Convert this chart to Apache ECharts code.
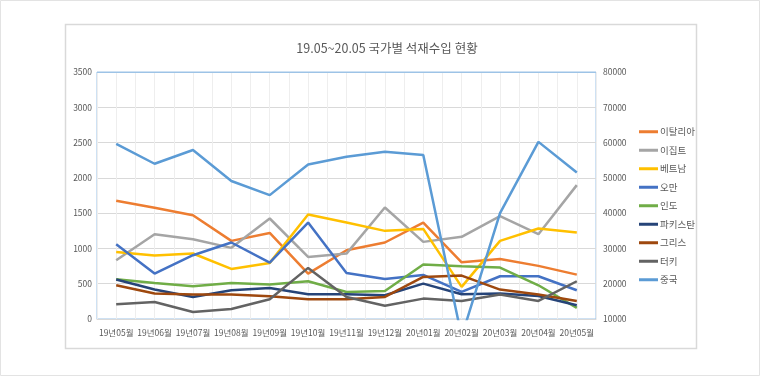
<!DOCTYPE html>
<html>
<head>
<meta charset="utf-8">
<script src="https://cdn.jsdelivr.net/npm/echarts@6/dist/echarts.min.js"></script>
<style>
  html, body { margin: 0; padding: 0; background: #fff; }
  #chart { width: 760px; height: 376px; }
</style>
</head>
<body>
<div id="chart"></div>
<script>
const months = ['19년05월', '19년06월', '19년07월', '19년08월', '19년09월', '19년10월', '19년11월',
  '19년12월', '20년01월', '20년02월', '20년03월', '20년04월', '20년05월']
const names = ['이탈리아', '이집트', '베트남', '오만', '인도', '파키스탄', '그리스', '터키', '중국']

const italy = [1675, 1575, 1471, 1107, 1220, 643, 975, 1084, 1367, 804, 851, 753, 629]
const egypt = [833, 1202, 1131, 1008, 1424, 880, 927, 1580, 1093, 1164, 1457, 1202, 1897]
const vietnam = [951, 899, 928, 710, 795, 1480, 1367, 1249, 1277, 455, 1107, 1282, 1225]
const oman = [1060, 644, 904, 1084, 800, 1367, 653, 568, 624, 384, 606, 606, 407]
const india = [563, 511, 464, 511, 488, 535, 383, 397, 771, 748, 729, 478, 157]
const pakistan = [559, 417, 313, 407, 440, 350, 350, 336, 501, 350, 360, 327, 194]
const greece = [478, 360, 346, 346, 322, 279, 279, 312, 596, 615, 417, 346, 256]
const turkey = [209, 242, 100, 142, 280, 724, 312, 189, 289, 256, 346, 256, 535]
// 중국은 오른쪽 축
const china = [59600, 54000, 57900, 49100, 45100, 53800, 56000, 57400, 56500, 5000, 40000, 60200, 51500]

const colors = ['#ED7D31', '#A5A5A5', '#FFC000', '#4472C4', '#70AD47', '#264478', '#9E480E', '#636363', '#5B9BD5']
const seriesData = [italy, egypt, vietnam, oman, india, pakistan, greece, turkey, china]

// 세로 보조 격자선 (반 칸 간격)
const halfTicks = []
for (let i = 0; i < months.length * 2; i++) halfTicks.push(i)

const font = '"Noto Sans CJK KR", "Noto Sans", sans-serif'
const textColor = '#595959'

const series = seriesData.map((data, i) => {
  return {
    name: names[i],
    type: 'line',
    yAxisIndex: i === 8 ? 1 : 0,
    symbol: 'none',
    data: data,
    clip: true,
    lineStyle: { width: 2.5, color: colors[i] },
    itemStyle: { color: colors[i] },
  }
})

const option = {
  animation: false,
  color: colors,
  textStyle: { fontFamily: font },
  title: {
    text: '19.05~20.05 국가별 석재수입 현황',
    left: 382,
    textAlign: 'center',
    top: 37,
    textStyle: { fontSize: 12.5, fontWeight: 'normal', color: textColor, fontFamily: font }
  },
  legend: {
    orient: 'vertical',
    left: 634,
    top: 122,
    icon: 'rect',
    itemWidth: 19,
    itemHeight: 3,
    itemGap: 9,
    data: names,
    textStyle: { fontSize: 9.5, color: textColor, fontFamily: font, padding: [0, 0, 0, -3] }
  },
  grid: {
    left: 97,
    right: 164,
    top: 72,
    bottom: 57,
    show: true,
    borderColor: '#9DC3E6',
    borderWidth: 1
  },
  xAxis: [
    {
      type: 'category',
      data: months,
      axisLine: { lineStyle: { color: '#d9d9d9' } },
      axisTick: { show: false },
      axisLabel: { interval: 0, fontSize: 8.5, color: textColor, margin: 10, fontFamily: font },
      splitLine: { show: false }
    },
    {
      type: 'category',
      data: halfTicks,
      position: 'bottom',
      show: true,
      axisLine: { show: false },
      axisTick: { show: false },
      axisLabel: { show: false },
      splitLine: { show: true, interval: 0, lineStyle: { color: '#eeeeee' } }
    }
  ],
  yAxis: [
    {
      type: 'value',
      min: 0,
      max: 3500,
      interval: 500,
      axisLine: { show: false },
      axisTick: { show: false },
      axisLabel: { fontSize: 8.5, color: textColor, margin: 5, fontFamily: font, formatter: v => String(v) },
      splitLine: { lineStyle: { color: '#d9d9d9' } }
    },
    {
      type: 'value',
      min: 10000,
      max: 80000,
      interval: 10000,
      position: 'right',
      axisLine: { show: false },
      axisTick: { show: false },
      axisLabel: { fontSize: 8.5, color: textColor, margin: 7, fontFamily: font, formatter: v => String(v) },
      splitLine: { show: false }
    }
  ],
  graphic: [
    {
      type: 'rect',
      shape: { x: 0.5, y: 0.5, width: 759, height: 375 },
      style: { fill: null, stroke: '#e3e3e3', lineWidth: 1 },
      silent: true
    },
    {
      type: 'rect',
      shape: { x: 65.5, y: 24.5, width: 631, height: 324 },
      style: { fill: null, stroke: '#d9d9d9', lineWidth: 1.5 },
      silent: true
    },
    {
      // 그림 영역 위쪽 파란 테두리
      type: 'line',
      shape: { x1: 97, y1: 72.5, x2: 596, y2: 72.5 },
      style: { stroke: '#9DC3E6', lineWidth: 1 },
      silent: true,
      z: 10
    }
  ],
  series: series
}

const chart = echarts.init(document.getElementById('chart'))
chart.setOption(option)
</script>
</body>
</html>
